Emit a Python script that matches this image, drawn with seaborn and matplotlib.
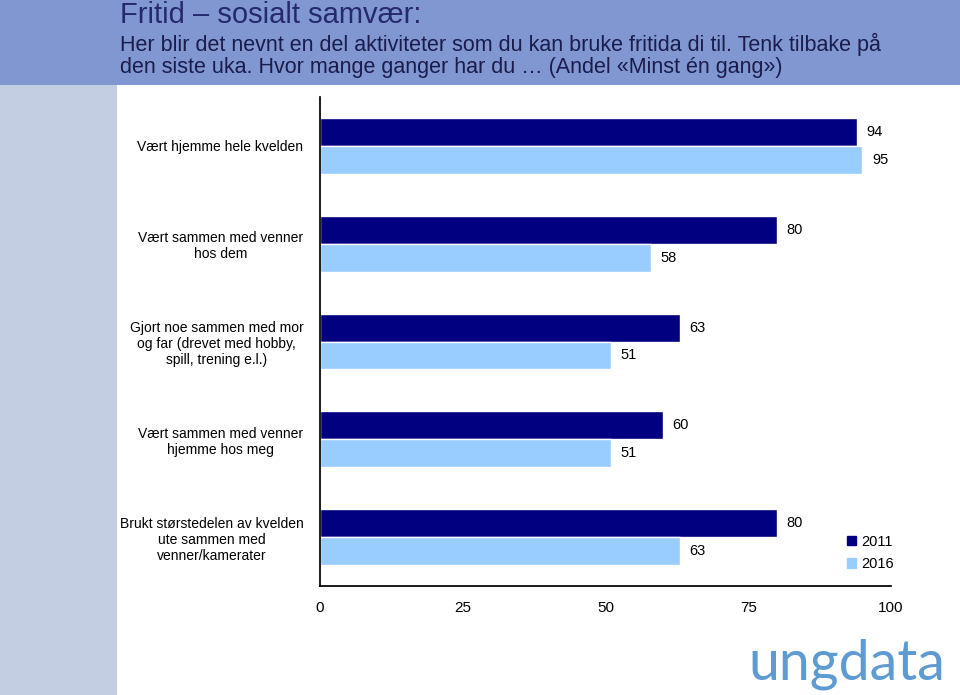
import matplotlib
matplotlib.use("Agg")
import matplotlib.pyplot as plt
import matplotlib.patches as mpatches
import seaborn as sns
import pandas as pd

# Data
kategorier = [
    "Vært hjemme hele kvelden",
    "Vært sammen med venner\nhos dem",
    "Gjort noe sammen med mor\nog far (drevet med hobby,\nspill, trening e.l.)",
    "Vært sammen med venner\nhjemme hos meg",
    "Brukt størstedelen av kvelden\nute sammen med\nvenner/kamerater",
]
aar = ["2011", "2016"]
verdier_2011 = [94, 80, 63, 60, 80]
verdier_2016 = [95, 58, 51, 51, 63]
farger = ["#000080", "#99ccff"]

df = pd.DataFrame({
    "kategori": kategorier * 2,
    "aar": [aar[0]] * len(kategorier) + [aar[1]] * len(kategorier),
    "andel": verdier_2011 + verdier_2016,
})

sns.set_theme(style="white")
plt.rcParams["font.family"] = ["Liberation Sans", "DejaVu Sans"]
plt.rcParams["text.color"] = "black"
plt.rcParams["xtick.color"] = "black"
plt.rcParams["ytick.color"] = "black"

fig = plt.figure(figsize=(9.6, 6.95), dpi=100)
fig.patch.set_facecolor("white")

# header band and side strip
fig.add_artist(mpatches.Rectangle((0, 1 - 85 / 695), 1, 85 / 695, transform=fig.transFigure,
                                  facecolor="#8097d1", edgecolor="none", zorder=0))
fig.add_artist(mpatches.Rectangle((0, 0), 117 / 960, 1 - 85 / 695, transform=fig.transFigure,
                                  facecolor="#c3cee2", edgecolor="none", zorder=0))

fig.text(120 / 960, 1 - 15 / 695, "Fritid – sosialt samvær:", fontsize=21,
         color="#26296e", va="center", ha="left")
fig.text(120 / 960, 1 - 44 / 695, "Her blir det nevnt en del aktiviteter som du kan bruke fritida di til. Tenk tilbake på",
         fontsize=15.5, color="#1b1c4c", va="center", ha="left")
fig.text(120 / 960, 1 - 67 / 695, "den siste uka. Hvor mange ganger har du … (Andel «Minst én gang»)",
         fontsize=15.5, color="#1b1c4c", va="center", ha="left")

ax = fig.add_axes([320 / 960, 1 - 586 / 695, (891 - 320) / 960, (586 - 97) / 695])
ax.set_facecolor("none")

sns.barplot(data=df, y="kategori", x="andel", hue="aar", order=kategorier, hue_order=aar,
            palette=farger, orient="h", width=0.57, saturation=1, ax=ax, legend=False)

for cont in ax.containers:
    ax.bar_label(cont, padding=7, fontsize=10.5, color="black")

ax.set_xlim(0, 100)
ax.set_ylim(len(kategorier) - 0.5, -0.5)
ax.set_xticks([0, 25, 50, 75, 100])
ax.set_xlabel("")
ax.set_ylabel("")
ax.tick_params(axis="x", labelsize=11, length=4, width=1, color="black", direction="out", pad=7)
ax.tick_params(axis="y", which="major", length=0, labelsize=10, pad=12)
ax.set_yticks([i - 0.5 for i in range(len(kategorier) + 1)], minor=True)
ax.tick_params(axis="y", which="minor", length=4, width=1, color="black", direction="out")
for lbl in ax.get_yticklabels():
    lbl.set_multialignment("center")

sns.despine(ax=ax, top=True, right=True)
ax.spines["left"].set_color("black")
ax.spines["bottom"].set_color("black")

handles = [mpatches.Patch(color=c, label=a) for c, a in zip(farger, aar)]
fig.legend(handles=handles, loc="center left", bbox_to_anchor=(834 / 960, 1 - 553 / 695),
           frameon=False, fontsize=10.5, handlelength=0.6, handleheight=0.6, handletextpad=0.4,
           labelspacing=0.55)

# logo text
fig.text(748 / 960, 1 - 680 / 695, "ungdata", family=["Lato", "DejaVu Sans"],
         fontsize=40, color="#5d9bd2", ha="left", va="baseline")

fig.savefig("out.png", dpi=100)
